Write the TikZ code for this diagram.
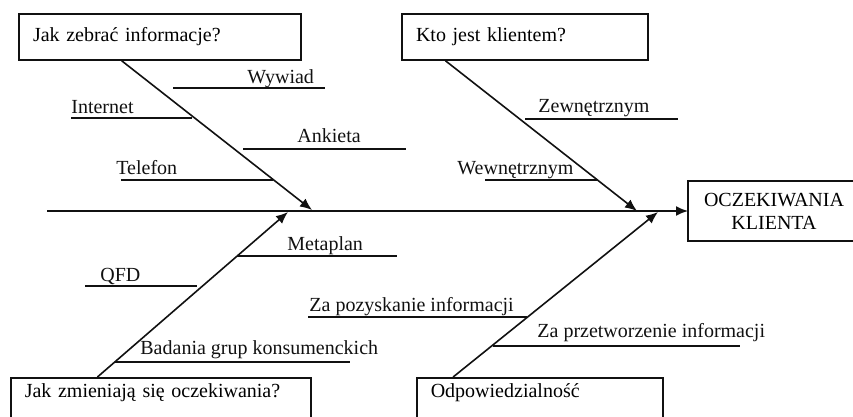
\documentclass[tikz,border=0pt]{standalone}
\usepackage{fontspec}
\setmainfont{Liberation Serif}
\usetikzlibrary{arrows.meta,calc}
\definecolor{ink}{HTML}{111111}

\tikzset{
    question/.style={draw=ink, line width=0.8pt, minimum height=23pt, inner xsep=7pt, align=left, text width=#1},
    openbox/.style={draw=ink, line width=0.8pt, anchor=north west, inner xsep=7pt, inner ysep=3pt, text height=7pt, text depth=30pt, align=left, text width=#1},
    label/.style={anchor=base west, inner sep=0pt, text=ink},
    bone/.style={ink, line width=0.8pt},
    feed/.style={ink, line width=0.8pt, -{Latex[length=6pt, width=5pt]}}
}

\begin{document}
\begin{tikzpicture}[x=0.5pt, y=-0.5pt, font=\fontsize{10}{11.5}\selectfont]
    \useasboundingbox (0, 0) rectangle (853, 417);
    \clip (0, 0) rectangle (853, 417);

    % Draw the boxes
    \node[question=127pt] (gather) at (160, 37) {Jak zebrać informacje?};
    \node[question=109pt] (client) at (525, 37) {Kto jest klientem?};
    \node[openbox=136pt] (change) at (10, 377) {Jak zmieniają się oczekiwania?};
    \node[openbox=109pt] (duty) at (416, 377) {Odpowiedzialność};
    \node[anchor=west, minimum height=30pt, text width=72pt, inner xsep=7pt, align=center, outer sep=0pt] (goal) at (688, 211) {OCZEKIWANIA\\KLIENTA};
    % the goal box runs off the page on the right
    \draw[bone] ($(goal.north east)+(20, 0)$) -- (goal.north west) -- (goal.south west) -- ($(goal.south east)+(20, 0)$);

    % Spine and joints
    \coordinate (tail) at (47, 211);
    \coordinate (j1) at (312, 210);
    \coordinate (j2) at (288, 212);
    \coordinate (j3) at (637, 211);
    \coordinate (j4) at (658, 212);
    \draw[feed] (tail) -- (goal.west);

    % Draw the main bones
    \draw[feed] ($(gather.south west)!0.365!(gather.south east)$) -- (j1);
    \draw[feed] ($(change.north west)!0.29!(change.north east)$) -- (j2);
    \draw[feed] ($(client.south west)!0.179!(client.south east)$) -- (j3);
    \draw[feed] ($(duty.north west)!0.15!(duty.north east)$) -- (j4);

    % Small bones, upper left
    \draw[bone] (173, 88) -- (325, 88);
    \node[label] (wywiad) at (247, 84) {Wywiad};
    \draw[bone] (71, 118) -- (192, 118);
    \node[label] (internet) at (71, 114) {Internet};
    \draw[bone] (243, 149) -- (406, 149);
    \node[label] (ankieta) at (297, 143) {Ankieta};
    \draw[bone] (121, 180) -- (273, 180);
    \node[label] (telefon) at (116, 175) {Telefon};

    % Small bones, upper right
    \draw[bone] (525, 119) -- (678, 119);
    \node[label] (outer) at (538, 113) {Zewnętrznym};
    \draw[bone] (485, 180) -- (597, 180);
    \node[label] (inner) at (457, 175) {Wewnętrznym};

    % Small bones, lower left
    \draw[bone] (237, 256) -- (397, 256);
    \node[label] (metaplan) at (287, 250) {Metaplan};
    \draw[bone] (85, 286) -- (197, 286);
    \node[label] (qfd) at (100, 282) {QFD};
    \draw[bone] (115, 362) -- (350, 362);
    \node[label] (groups) at (140, 355) {Badania grup konsumenckich};

    % Small bones, lower right
    \draw[bone] (308, 317) -- (527, 317);
    \node[label] (obtain) at (309, 312) {Za pozyskanie informacji};
    \draw[bone] (493, 346) -- (740, 346);
    \node[label] (process) at (537, 337) {Za przetworzenie informacji};
\end{tikzpicture}
\end{document}
